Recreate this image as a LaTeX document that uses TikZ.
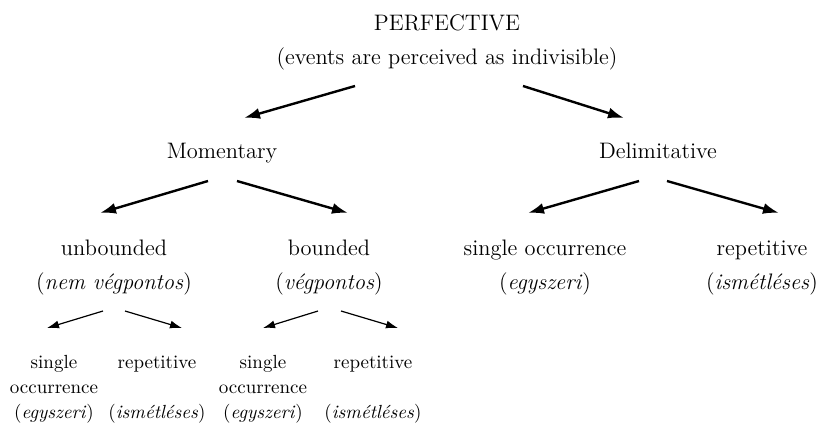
\documentclass[tikz,border=0pt]{standalone}
\usepackage{tikz}
\usetikzlibrary{arrows.meta,calc}

\begin{document}
\begin{tikzpicture}[x=0.5pt,y=-0.5pt,
    big/.style={align=center,inner sep=0pt,anchor=base,font=\fontsize{11.2}{17}\selectfont},
    small/.style={align=center,inner sep=0pt,anchor=base,font=\fontsize{9.5}{12.3}\selectfont},
    bigarr/.style={line width=1.2pt,-{Latex[length=8pt,width=5.5pt]}},
    smallarr/.style={line width=0.6pt,-{Latex[length=6pt,width=4pt]}}]
\useasboundingbox (0,0) rectangle (819,423);

% Top level (base = last line)
\node[big] (perf) at (447,64) {PERFECTIVE\\(events are perceived as indivisible)};

% Second level
\node[big] (mom) at (222,158) {Momentary};
\node[big] (delim) at (658,158) {Delimitative};

% Third level
\node[big] (unb) at (114,289) {unbounded\\(\textit{nem végpontos})};
\node[big] (bnd) at (329,289) {bounded\\(\textit{végpontos})};
\node[big] (sing) at (545,289) {single occurrence\\(\textit{egyszeri})};
\node[big] (rep) at (762,289) {repetitive\\(\textit{ismétléses})};

% Bottom level
\node[small] (using) at (54,418) {single\\occurrence\\(\textit{egyszeri})};
\node[small] (urep) at (157,418) {repetitive\\\mbox{}\\(\textit{ismétléses})};
\node[small] (bsing) at (263,418) {single\\occurrence\\(\textit{egyszeri})};
\node[small] (brep) at (373,418) {repetitive\\\mbox{}\\(\textit{ismétléses})};

% Arrows
\draw[bigarr] ($(perf.base)+(-92,22)$) -- ($(mom.base)+(22,-40)$);
\draw[bigarr] ($(perf.base)+(76,22)$) -- ($(delim.base)+(-34,-40)$);
\draw[bigarr] ($(mom.base)+(-14,23)$) -- ($(unb.base)+(-14,-76)$);
\draw[bigarr] ($(mom.base)+(15,23)$) -- ($(bnd.base)+(19,-76)$);
\draw[bigarr] ($(delim.base)+(-19,23)$) -- ($(sing.base)+(-17,-76)$);
\draw[bigarr] ($(delim.base)+(9,23)$) -- ($(rep.base)+(17,-76)$);

\draw[smallarr] ($(unb.base)+(-11,22)$) -- ($(using.base)+(-7,-90)$);
\draw[smallarr] ($(unb.base)+(11,22)$) -- ($(urep.base)+(25,-90)$);
\draw[smallarr] ($(bnd.base)+(-11,22)$) -- ($(bsing.base)+(0,-90)$);
\draw[smallarr] ($(bnd.base)+(12,22)$) -- ($(brep.base)+(25,-90)$);
\end{tikzpicture}
\end{document}
